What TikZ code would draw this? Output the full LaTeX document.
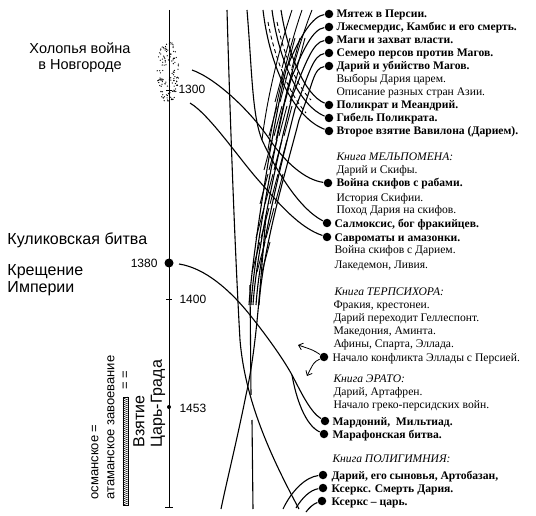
\documentclass[tikz,border=0pt]{standalone}
\usepackage{fontspec}
\setmainfont{Liberation Serif}
\setsansfont{Liberation Sans}
\usetikzlibrary{arrows.meta}
\begin{document}
\begin{tikzpicture}[x=1pt,y=-1pt, line width=1pt,
  ev/.style={anchor=base west, inner sep=0, font=\fontsize{11.6}{13}\selectfont},
  evb/.style={anchor=base west, inner sep=0, font=\fontsize{11.6}{13}\selectfont\bfseries},
  evi/.style={anchor=base west, inner sep=0, font=\fontsize{11.6}{13}\selectfont\itshape},
  ldot/.style={circle, fill, inner sep=0, minimum size=8.5pt},
  lab/.style={font=\sffamily\fontsize{16}{17}\selectfont, inner sep=0},
  num/.style={font=\sffamily\fontsize{12}{14}\selectfont, inner sep=0},
  vlab/.style={font=\sffamily\fontsize{13}{15}\selectfont, inner sep=0, rotate=90, anchor=west},
  vbig/.style={font=\sffamily\fontsize{16}{18}\selectfont, inner sep=0, rotate=90, anchor=west},
  hatch/.style={line width=0.9pt},
  conn/.style={line width=1.1pt},
  arr/.style={line width=0.8pt, -{Straight Barb[length=4pt,width=7pt]}}
]
\useasboundingbox (0,0) rectangle (536,516);

% ---------- time axis ----------
\coordinate (axtop) at (169,10);
\coordinate (axbot) at (169,507);
\draw[line width=0.9pt] (axtop) -- (axbot);
\draw[line width=0.9pt] (165,507) -- (173,507);
\draw[line width=0.9pt] (166,90) -- (172,90);
\node[num, anchor=west] (y1300) at (178,89) {1300};
\node[circle, fill, inner sep=0, minimum size=9pt] (y1380) at (169,263) {};
\node[num, anchor=east] (l1380) at (158,263) {1380};
\draw[line width=0.9pt] (166,299) -- (172,299);
\node[num, anchor=west] (y1400) at (179,299) {1400};
\node[circle, fill, inner sep=0, minimum size=4pt] (y1453) at (169,407) {};
\node[num, anchor=west] (l1453) at (179,408) {1453};

% stippled ellipse
\pgfmathsetseed{7}
\foreach \i in {1,...,130}{
  \pgfmathsetmacro\a{rnd*360}
  \pgfmathsetmacro\r{0.2+0.8*sqrt(rnd)}
  \fill ({168+11*\r*cos(\a)},{72+31*\r*sin(\a)}) circle (0.65);
}

% ---------- left labels ----------
\node[font=\sffamily\fontsize{14.5}{16}\selectfont, align=center, inner sep=0] (holop) at (80,58) {Холопья война\\в Новгороде};
\node[lab, anchor=west] (kulik) at (7,240) {Куликовская битва};
\node[lab, anchor=west, align=left] (kresh) at (7,280) {Крещение\\Империи};

\node[vlab] (osm) at (95,500) {османское =};
\node[vlab] (atam) at (111,500) {атаманское завоевание};
\draw[line width=0.6pt] (123,397) rectangle (128,505);
\foreach \y in {399,401,...,505} \draw[line width=0.5pt] (123,\y) -- (128,\y-2);
\node[font=\sffamily\fontsize{13}{15}\selectfont, inner sep=0, rotate=90] (eqeq) at (126,380) {= =};
\node[vbig] (vzya) at (139,448) {Взятие};
\node[vbig] (tsar) at (158,448) {Царь-Града};

% ---------- right list ----------
\node[ldot] (d1) at (329,14) {};  \node[evb] (t1) at (336,18) {Мятеж в Персии.};
\node[ldot] (d2) at (329,27) {};  \node[evb] (t2) at (336,31) {Лжесмердис, Камбис и его смерть.};
\node[ldot] (d3) at (329,40) {};  \node[evb] (t3) at (336,44) {Маги и захват власти.};
\node[ldot] (d4) at (329,53) {};  \node[evb] (t4) at (336,57) {Семеро персов против Магов.};
\node[ldot] (d5) at (329,66) {};  \node[evb] (t5) at (336,70) {Дарий и убийство Магов.};
\node[ev] (t6) at (336,83) {Выборы Дария царем.};
\node[ev] (t7) at (336,96) {Описание разных стран Азии.};
\node[ldot] (p1) at (329,105) {}; \node[evb] (t8) at (336,109) {Поликрат и Меандрий.};
\node[ldot] (p2) at (329,118) {}; \node[evb] (t9) at (336,122) {Гибель Поликрата.};
\node[ldot] (p3) at (329,131) {}; \node[evb] (t10) at (336,135) {Второе взятие Вавилона (Дарием).};

\node[evi] (m0) at (336,161) {Книга МЕЛЬПОМЕНА:};
\node[ev] (m1) at (336,174) {Дарий и Скифы.};
\node[ldot] (w1) at (328,183) {}; \node[evb] (m2) at (336,187) {Война скифов с рабами.};
\node[ev] (m3) at (336,201) {История Скифии.};
\node[ev] (m4) at (336,214) {Поход Дария на скифов.};
\node[ldot] (sal) at (327,223) {}; \node[evb] (m5) at (334,227) {Салмоксис, бог фракийцев.};
\node[ldot] (sav) at (327,237) {}; \node[evb] (m6) at (334,241) {Савроматы и амазонки.};
\node[ev] (m7) at (334,254) {Война скифов с Дарием.};
\node[ev] (m8) at (334,268) {Лакедемон, Ливия.};

\node[evi] (r0) at (334,295) {Книга ТЕРПСИХОРА:};
\node[ev] (r1) at (333,308) {Фракия, крестонеи.};
\node[ev] (r2) at (333,321) {Дарий переходит Геллеспонт.};
\node[ev] (r3) at (333,334) {Македония, Аминта.};
\node[ev] (r4) at (333,347) {Афины, Спарта, Эллада.};
\node[ldot] (nk) at (324,357) {}; \node[ev] (r5) at (332,361) {Начало конфликта Эллады с Персией.};

\node[evi] (e0) at (333,382) {Книга ЭРАТО:};
\node[ev] (e1) at (333,395) {Дарий, Артафрен.};
\node[ev] (e2) at (333,408) {Начало греко-персидских войн.};
\node[ldot] (mard) at (325,421) {}; \node[evb] (e3) at (332,425) {Мардоний,\ \ Мильтиад.};
\node[ldot] (mar) at (324,434) {}; \node[evb] (e4) at (332,438) {Марафонская битва.};

\node[evi] (g0) at (332,462) {Книга ПОЛИГИМНИЯ:};
\node[ldot] (dp1) at (323,475) {}; \node[evb] (g1) at (331,479) {Дарий, его сыновья, Артобазан,};
\node[ldot] (dp2) at (323,488) {}; \node[evb] (g2) at (331,492) {Ксеркс. Смерть Дария.};
\node[ldot] (dp3) at (322,501) {}; \node[evb] (g3) at (331,505) {Ксеркс – царь.};

% ---------- free ends ----------
\coordinate (c1s) at (192,70);
\coordinate (c2s) at (190,103);
\coordinate (c3s) at (247,10);
\coordinate (a1s) at (263,10);
\coordinate (a2s) at (272,10);
\coordinate (a3s) at (281,10);
\coordinate (split) at (292,375);

% ---------- long strokes ----------
% P
\draw[conn] (227,10) .. controls (231,150) and (236,270) .. (240,340) .. controls (245,400) and (270,455) .. (299,509);
% Q
\draw[conn] (266,215) .. controls (259,300) and (256,350) .. (246,395) .. controls (237,440) and (227,480) .. (221,509);
% R
\draw[conn] (250,285) -- (251,395);
\draw[conn] (252,420) -- (253,509);

% connectors of the top five events
\foreach \d/\mx/\my/\fx in {d1/286/70/249, d2/289/84/251, d3/292/97/253, d4/295/109/256, d5/299/120/259}{
  \draw[conn] (\d) .. controls +(-16,2) and +(14,-35) .. (\mx,\my) .. controls +(-10,40) and +(4,-60) .. (\fx,305);
}
% strokes from the upper edge
\draw[hatch] (292,10) .. controls (282,40) and (268,90) .. (262,140);
\draw[hatch] (302,10) .. controls (290,45) and (276,100) .. (268,150);
\draw[hatch] (312,10) .. controls (300,40) and (286,90) .. (276,140);
% short hatching
\foreach \x/\y in {290/38,295/38,300/38,305/38,
                   283/72,288/72,293/72,298/72,
                   277/106,282/106,287/106,292/106,
                   272/140,277/140,282/140,287/140,
                   268/174,273/174,278/174,283/174,
                   264/208,269/208,274/208,
                   260/242,265/242,270/242}{
  \draw[hatch] (\x,\y) -- ++(-8,30);
}
% dashed strokes
\draw[hatch, dash pattern=on 4pt off 3pt] (268,22) .. controls (275,60) and (290,95) .. (306,113);
\draw[hatch, dash pattern=on 4pt off 3pt] (277,22) .. controls (284,55) and (296,85) .. (311,100);

% connectors Polycrates group
\draw[conn] (a1s) .. controls (270,70) and (295,118) .. (p3);
\draw[conn] (a2s) .. controls (279,62) and (300,106) .. (p2);
\draw[conn] (a3s) .. controls (288,55) and (305,95) .. (p1);

% connectors Melpomene
\draw[conn] (c1s) .. controls (215,78) and (250,110) .. (270,140) .. controls (285,162) and (305,180) .. (w1);
\draw[conn] (c2s) .. controls (210,115) and (240,160) .. (260,182) .. controls (280,205) and (300,228) .. (sav);
\draw[conn] (c3s) .. controls (252,70) and (252,115) .. (262,140) .. controls (275,168) and (298,208) .. (sal);

% 1380 curve
\draw[conn] (y1380) ++(10,1) .. controls (205,268) and (230,290) .. (250,315) .. controls (270,340) and (285,362) .. (split);
\draw[conn] (split) .. controls (300,390) and (310,412) .. (mard);
\draw[conn] (split) .. controls (296,398) and (305,425) .. (mar);

% arrows from "Начало конфликта"
\coordinate (nka) at (298,345);
\coordinate (nkb) at (307,376);
\draw[arr] (nk) .. controls (313,350) .. (nka);
\draw[arr] (nk) .. controls (314,362) .. (nkb);

% Polyhymnia connectors
\coordinate (b1) at (283,509);
\coordinate (b2) at (296,508);
\coordinate (b3) at (306,512);
\draw[conn] (dp1) .. controls (306,477) and (292,490) .. (b1);
\draw[conn] (dp2) .. controls (310,490) and (302,498) .. (b2);
\draw[conn] (dp3) .. controls (313,504) and (309,508) .. (b3);
\end{tikzpicture}
\end{document}
